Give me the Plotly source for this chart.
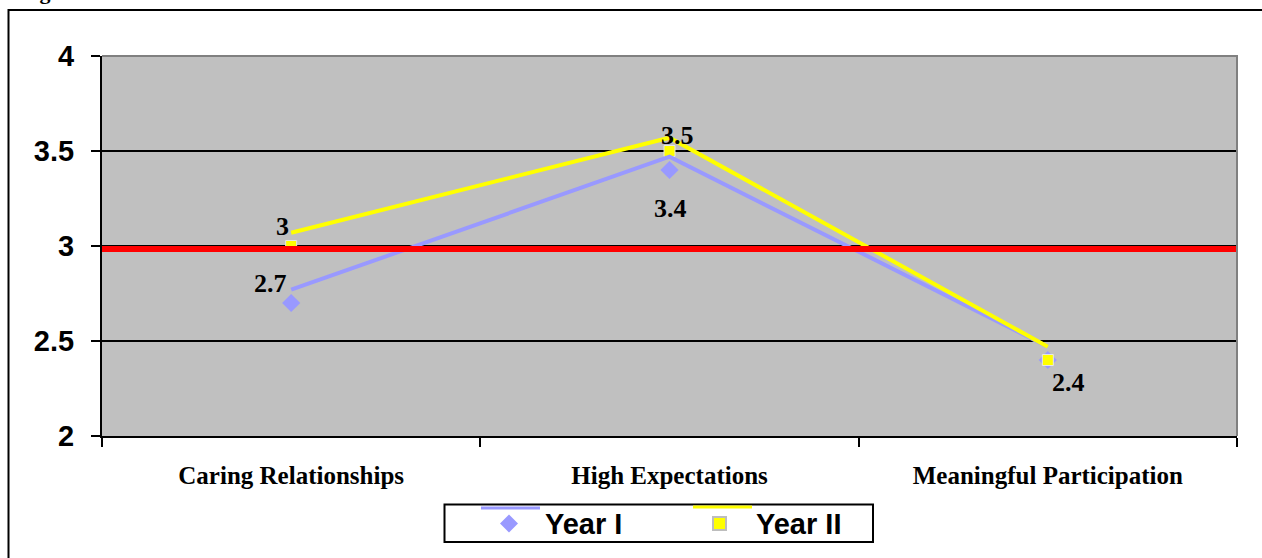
import plotly.graph_objects as go

# Survey scale means by resilience domain
categories = ["Caring Relationships", "High Expectations", "Meaningful Participation"]
year_1 = [2.7, 3.4, 2.4]
year_2 = [3.0, 3.5, 2.4]
benchmark = 3.0
y_ticks = [2, 2.5, 3, 3.5, 4]

# data label text per series and point (None = no label)
labels_year_1 = ["2.7", "3.4", None]
labels_year_2 = ["3", "3.5", "2.4"]

W, H = 1262, 558
M_L, M_R, M_T, M_B = 102, 25, 56, 122
PW, PH = W - M_L - M_R, H - M_T - M_B


def px(x):
    return (x - M_L) / PW


def py(y):
    return (H - M_B - y) / PH


C1 = "#9999FF"
C2 = "#FFFF00"
SERIF = "Liberation Serif"
SANS = "Liberation Sans"

fig = go.Figure()

# connecting lines (drawn on an overlaid axis, as the old chart engine rendered them)
fig.add_trace(go.Scatter(x=categories, y=year_1, mode="lines", yaxis="y2",
                         line=dict(color=C1, width=4), hoverinfo="skip", showlegend=False))
fig.add_trace(go.Scatter(x=categories, y=year_2, mode="lines", yaxis="y2",
                         line=dict(color=C2, width=4), hoverinfo="skip", showlegend=False))

# point markers
fig.add_trace(go.Scatter(x=categories, y=year_1, mode="markers", name="Year I",
                         marker=dict(symbol="diamond", size=14, color=C1,
                                     line=dict(width=0)), showlegend=False))
fig.add_trace(go.Scatter(x=categories, y=year_2, mode="markers", name="Year II",
                         marker=dict(symbol="square", size=11, color=C2,
                                     line=dict(width=1, color="#E6E6E6")), showlegend=False))

annotations = []
label_font = dict(family=SERIF, size=26, color="black")
offsets_1 = [(-21, 20), (1, -38), (0, 0)]
offsets_2 = [(-9, 20), (8, 16), (21, -22)]
for cat, val, lab, (dx, dy) in zip(categories, year_1, labels_year_1, offsets_1):
    if lab:
        annotations.append(dict(x=cat, y=val, xref="x", yref="y", text=f"<b>{lab}</b>",
                                showarrow=False, xshift=dx, yshift=dy, font=label_font))
for cat, val, lab, (dx, dy) in zip(categories, year_2, labels_year_2, offsets_2):
    if lab:
        annotations.append(dict(x=cat, y=val, xref="x", yref="y", text=f"<b>{lab}</b>",
                                showarrow=False, xshift=dx, yshift=dy, font=label_font))

# legend entries
legend_font = dict(family=SANS, size=29, color="black")
annotations.append(dict(x=px(543), y=py(524), xref="paper", yref="paper", text="<b>Year I</b>",
                        xanchor="left", yanchor="middle", showarrow=False, font=legend_font))
annotations.append(dict(x=px(754), y=py(524), xref="paper", yref="paper", text="<b>Year II</b>",
                        xanchor="left", yanchor="middle", showarrow=False, font=legend_font))

# figure caption running off the top of the page
annotations.append(dict(x=px(18), y=py(6), xref="paper", yref="paper", text="<b>Figure 1</b>",
                        xanchor="left", yanchor="bottom", showarrow=False,
                        font=dict(family=SERIF, size=22, color="black")))

shapes = [
    # benchmark line, sitting just under the 3.0 gridline
    dict(type="line", xref="paper", yref="y", x0=0, x1=1,
         ysizemode="pixel", yanchor=benchmark, y0=-3, y1=-3,
         line=dict(color="#FF0000", width=6), layer="above"),
    # plot frame, top and right
    dict(type="path", xref="paper", yref="paper", path="M 0 1 L 1 1 L 1 0",
         line=dict(color="#808080", width=2), layer="above"),
    # outer chart border
    dict(type="rect", xref="paper", yref="paper", x0=px(8.5), x1=px(1275), y0=py(575), y1=py(10),
         line=dict(color="black", width=2), fillcolor="rgba(0,0,0,0)"),
    # legend box
    dict(type="rect", xref="paper", yref="paper", x0=px(444.5), x1=px(873), y0=py(542), y1=py(504.5),
         line=dict(color="black", width=2), fillcolor="white"),
    # legend line keys
    dict(type="line", xref="paper", yref="paper", x0=px(481), x1=px(540), y0=py(508), y1=py(508),
         line=dict(color=C1, width=3)),
    dict(type="line", xref="paper", yref="paper", x0=px(693), x1=px(752), y0=py(507), y1=py(507),
         line=dict(color=C2, width=3)),
    # legend marker keys
    dict(type="path", xref="paper", yref="paper",
         path=f"M {px(509)} {py(514.5)} L {px(518)} {py(523.5)} L {px(509)} {py(532.5)} L {px(500)} {py(523.5)} Z",
         fillcolor=C1, line=dict(width=0)),
    dict(type="rect", xref="paper", yref="paper", x0=px(713), x1=px(726), y0=py(530), y1=py(517),
         fillcolor=C2, line=dict(color="#BDBDBD", width=2)),
]

fig.update_layout(
    width=W, height=H,
    margin=dict(l=M_L, r=M_R, t=M_T, b=M_B),
    paper_bgcolor="white",
    plot_bgcolor="#C0C0C0",
    showlegend=False,
    xaxis=dict(
        type="category", range=[-0.5, 2.5],
        tickson="boundaries", ticks="outside", ticklen=9, tickwidth=2, tickcolor="black",
        showline=True, linecolor="black", linewidth=2, showgrid=False,
        tickfont=dict(family=SERIF, size=25, color="black"),
        ticklabelstandoff=16,
        tickvals=categories, ticktext=[f"<b>{c}</b>" for c in categories],
    ),
    yaxis=dict(
        range=[2, 4], tickvals=y_ticks, ticktext=[f"<b>{t:g}</b>" for t in y_ticks],
        ticks="outside", ticklen=9, tickwidth=2, tickcolor="black",
        showline=True, linecolor="black", linewidth=2,
        showgrid=True, gridcolor="black", gridwidth=2, zeroline=False,
        tickfont=dict(family=SANS, size=29, color="black"),
        ticklabelstandoff=11,
    ),
    yaxis2=dict(range=[2 - 0.07, 4 - 0.07], overlaying="y", visible=False),
    shapes=shapes,
    annotations=annotations,
)

fig.write_html("out.html")
